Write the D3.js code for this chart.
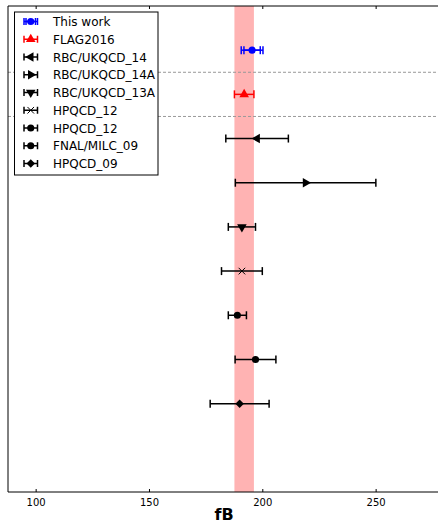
<!DOCTYPE html>
<html>
<head>
<meta charset="utf-8">
<script src="https://cdn.jsdelivr.net/npm/d3@7"></script>
<style>
  body { margin: 0; background: #fff; }
  text { font-family: 'DejaVu Sans', sans-serif; }
</style>
</head>
<body>
<svg id="chart" width="438" height="524"></svg>
<script>
'use strict';

// values
const labels = [
    'This work',
    'FLAG2016',
    'RBC/UKQCD_14',
    'RBC/UKQCD_14A',
    'RBC/UKQCD_13A',
    'HPQCD_12',
    'HPQCD_12',
    'FNAL/MILC_09',
    'HPQCD_09'
];
const centers = [195.5, 192.0, 197.7, 219.1, 191.0, 191.0, 189.0, 197.0, 190.0];
const errors = [4.8, 4.3, 13.8, 31.0, 6.0, 9.0, 4.0, 9.0, 13.0];
const innerErrors = [3.6, null, null, null, null, null, null, null, null];
const colours = ['#0000ff', '#ff0000', '#000', '#000', '#000', '#000', '#000', '#000', '#000'];
const markers = ['circle', 'up', 'left', 'right', 'down', 'x', 'circle', 'circle', 'diamond'];
const band = [192.0, 4.3]; // FLAG2016 average
const separators = [0.5, 1.5];
const xTicks = [100, 150, 200, 250];

const svg = d3.select('#chart');
const plotLeft = 8, plotRight = 440, plotTop = 6, plotBottom = 492;

const x = d3.scaleLinear().domain([87.8, 278.4]).range([plotLeft, plotRight]);
const y = d3.scaleLinear().domain([-1, 10]).range([plotTop, plotBottom]);

function markerPath(kind) {
    let sym, size, rot = 0;
    if (kind === 'circle') { sym = d3.symbolCircle; size = 40; }
    else if (kind === 'diamond') { sym = d3.symbolSquare; size = 36; rot = 45; }
    else if (kind === 'x') { sym = d3.symbolX; size = 30; }
    else {
        sym = d3.symbolTriangle; size = 40;
        rot = {up: 0, right: 90, down: 180, left: -90}[kind];
    }
    return {d: d3.symbol(sym, size)(), rot: rot};
}

function drawMarker(g, kind, cx, cy, colour) {
    let m = markerPath(kind);
    let p = g.append('path')
        .attr('d', m.d)
        .attr('transform', `translate(${cx},${cy}) rotate(${m.rot})`);
    if (kind === 'x') {
        p.attr('fill', 'none').attr('stroke', colour).attr('stroke-width', 1);
    } else {
        p.attr('fill', colour);
    }
}

function drawErrorbar(g, x0, x1, cy, colour, capH) {
    g.append('line')
        .attr('x1', x0).attr('x2', x1).attr('y1', cy).attr('y2', cy)
        .attr('stroke', colour).attr('stroke-width', 1.5);
    [x0, x1].forEach((cx) => {
        g.append('line')
            .attr('x1', cx).attr('x2', cx)
            .attr('y1', cy - capH / 2).attr('y2', cy + capH / 2)
            .attr('stroke', colour).attr('stroke-width', 1.5);
    });
}

// shaded FLAG band
svg.append('rect')
    .attr('x', x(band[0] - band[1]))
    .attr('y', plotTop)
    .attr('width', x(band[0] + band[1]) - x(band[0] - band[1]))
    .attr('height', plotBottom - plotTop)
    .attr('fill', '#ffb3b3');

// dashed separators
svg.selectAll('line.sep')
    .data(separators)
    .enter()
    .append('line')
    .attr('class', 'sep')
    .attr('x1', plotLeft).attr('x2', plotRight)
    .attr('y1', (d) => y(d)).attr('y2', (d) => y(d))
    .attr('stroke', '#999')
    .attr('stroke-width', 1)
    .attr('stroke-dasharray', '3,2');

// points with error bars
const points = svg.append('g');
centers.forEach((c, i) => {
    let cy = y(i);
    drawErrorbar(points, x(c - errors[i]), x(c + errors[i]), cy, colours[i], 8);
    if (innerErrors[i] !== null) {
        drawErrorbar(points, x(c - innerErrors[i]), x(c + innerErrors[i]), cy, colours[i], 8);
    }
    drawMarker(points, markers[i], x(c), cy, colours[i]);
});

// spines
svg.append('line').attr('x1', plotLeft).attr('x2', plotRight).attr('y1', plotTop).attr('y2', plotTop)
    .attr('stroke', '#000').attr('stroke-width', 1);
svg.append('line').attr('x1', plotLeft).attr('x2', plotRight).attr('y1', plotBottom).attr('y2', plotBottom)
    .attr('stroke', '#000').attr('stroke-width', 1);
svg.append('line').attr('x1', plotLeft).attr('x2', plotLeft).attr('y1', plotTop).attr('y2', plotBottom)
    .attr('stroke', '#000').attr('stroke-width', 1);

// bottom axis (ticks point inward)
const xAxis = d3.axisBottom(x).tickValues(xTicks).tickSize(-3).tickPadding(7);
const axG = svg.append('g').attr('transform', `translate(0,${plotBottom})`).call(xAxis);
axG.select('.domain').remove();
axG.selectAll('text').attr('font-size', 10).attr('font-family', 'DejaVu Sans').attr('fill', '#000');
axG.selectAll('line').attr('stroke', '#000');

const topAxis = d3.axisTop(x).tickValues(xTicks).tickSize(-3).tickFormat('');
const topG = svg.append('g').attr('transform', `translate(0,${plotTop})`).call(topAxis);
topG.select('.domain').remove();
topG.selectAll('line').attr('stroke', '#000');

svg.append('text')
    .attr('x', (plotLeft + plotRight) / 2)
    .attr('y', 520)
    .attr('text-anchor', 'middle')
    .attr('font-size', 16)
    .attr('font-weight', 'bold')
    .text('fB');

// legend
const legend = svg.append('g');
legend.append('rect')
    .attr('x', 14.5).attr('y', 12)
    .attr('width', 143.5).attr('height', 163)
    .attr('fill', '#fff')
    .attr('stroke', '#000')
    .attr('stroke-width', 1);

labels.forEach((name, i) => {
    let ly = 21.5 + i * 17.75;
    drawErrorbar(legend, 24, 37.5, ly, colours[i], 7);
    if (innerErrors[i] !== null) {
        drawErrorbar(legend, 26, 35.5, ly, colours[i], 7);
    }
    drawMarker(legend, markers[i], 30.75, ly, colours[i]);
    legend.append('text')
        .attr('x', 53)
        .attr('y', ly + 4.5)
        .attr('font-size', 12)
        .text(name);
});
</script>
</body>
</html>
